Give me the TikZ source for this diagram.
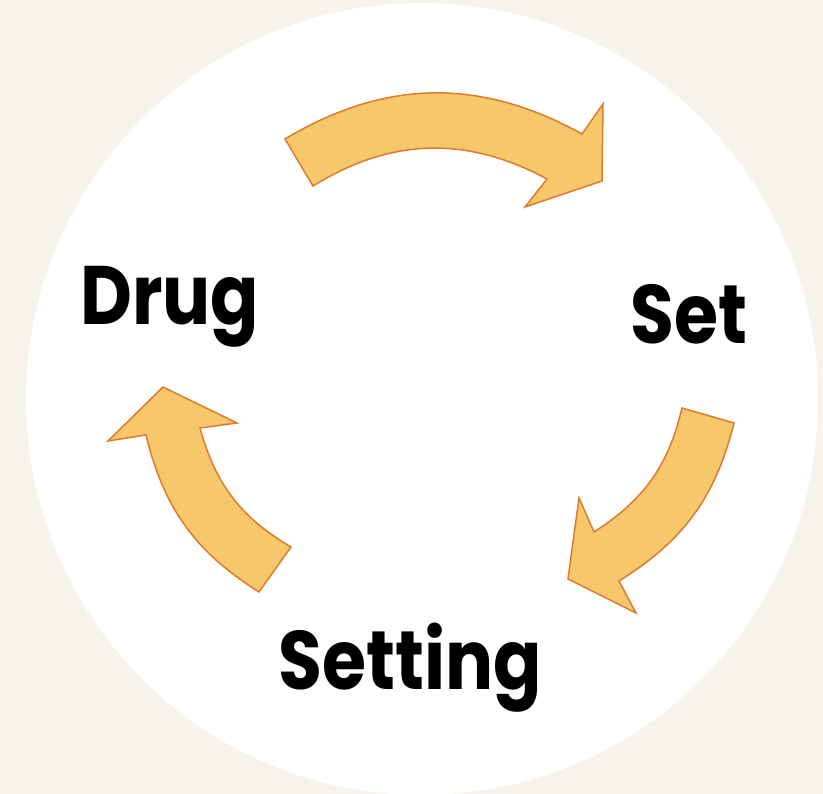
\documentclass[tikz,border=0pt]{standalone}
\usepackage{fontspec}
\setmainfont{Poppins}
\usepackage{tikz}

\definecolor{bgbeige}{RGB}{245,243,236}
\definecolor{arrowfill}{RGB}{247,200,107}
\definecolor{arrowline}{RGB}{224,122,44}

\tikzset{
  blockarrow/.style={fill=arrowfill, draw=arrowline, line width=1.5pt, line join=miter},
  wordlabel/.style={anchor=base west, inner sep=0pt, font=\bfseries\fontsize{83}{83}\selectfont}
}
\newcommand{\narrow}[1]{\scalebox{0.86}[1]{#1}}

\begin{document}
\begin{tikzpicture}[x=1pt,y=1pt]
    % 背景
    \clip (0,0) rectangle (823,-794);
    \fill[bgbeige] (0,0) rectangle (823,-794);
    \fill[white] (422,-399) circle (396);

    % 文字
    \node[wordlabel] (drug) at (80,-325) {\narrow{Drug}};
    \node[wordlabel] (set) at (630,-344) {\narrow{Set}};
    \node[wordlabel] (setting) at (278,-689) {\narrow{Setting}};

    % 上方箭头
    \draw[blockarrow] (285,-139) to[bend left=30] (582,-134) -- (603,-104) -- (602,-181)
        -- (525,-207) -- (547,-179) to[bend right=30] (313,-186) -- cycle;
    % 右方箭头
    \draw[blockarrow] (682,-408) -- (734,-423) to[bend left=22] (619,-581) -- (636,-613)
        -- (568,-579) -- (579,-498) -- (594,-532) to[bend right=22] (682,-408) -- cycle;
    % 左方箭头
    \draw[blockarrow] (291,-547) -- (259,-592) to[bend left=22] (146,-435) -- (108,-441)
        -- (163,-387) -- (237,-423) -- (200,-428) to[bend right=22] (291,-547) -- cycle;
\end{tikzpicture}
\end{document}
